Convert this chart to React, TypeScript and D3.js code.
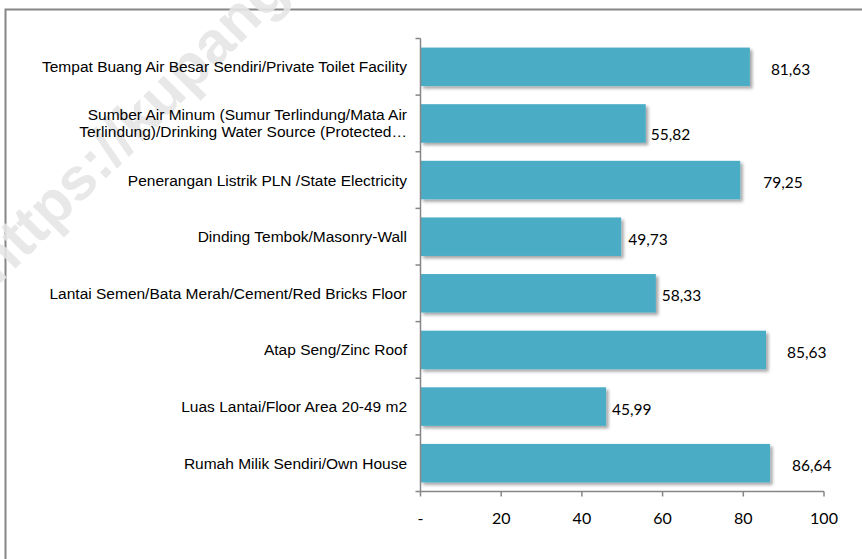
import React from "react";
import * as d3 from "d3";

const categories: string[] = [
  "Tempat Buang Air Besar Sendiri/Private Toilet Facility",
  "Sumber Air Minum (Sumur Terlindung/Mata Air\nTerlindung)/Drinking Water Source (Protected…",
  "Penerangan Listrik PLN /State Electricity",
  "Dinding Tembok/Masonry-Wall",
  "Lantai Semen/Bata Merah/Cement/Red Bricks Floor",
  "Atap Seng/Zinc Roof",
  "Luas Lantai/Floor Area 20-49 m2",
  "Rumah Milik Sendiri/Own House",
];
const values: number[] = [81.63, 55.82, 79.25, 49.73, 58.33, 85.63, 45.99, 86.64];
const valueLabels: string[] = ["81,63", "55,82", "79,25", "49,73", "58,33", "85,63", "45,99", "86,64"];
const xTicks: number[] = [0, 20, 40, 60, 80, 100];
const xTickLabels: string[] = ["-", "20", "40", "60", "80", "100"];
// label nudges (Excel-like placement)
const labelDx: number[] = [21, 5, 23, 7, 6, 21, 6, 22];
const labelDy: number[] = [0, 9, 0, 0, 0, 0, 0, 0];

const W = 862;
const H = 559;
const left = 420.5;
const right = 824;
const top = 38.5;
const bottom = 491.5;

export default function App() {
  const x = d3.scaleLinear().domain([0, 100]).range([left, right]);
  const y = d3.scaleBand<number>().domain(d3.range(categories.length)).range([top, bottom]).paddingInner(0.32).paddingOuter(0.16);
  const boundaries = d3.range(categories.length + 1).map((i) => top + i * ((bottom - top) / categories.length));
  const axisColor = "#868686";
  return (
    <svg width={W} height={H} style={{ position: "absolute", left: 0, top: 0, background: "#fff" }}>
      <defs>
        <filter id="sh" x="-5%" y="-20%" width="115%" height="160%">
          <feDropShadow dx="2.5" dy="2.5" stdDeviation="1.8" floodColor="#000" floodOpacity="0.35" />
        </filter>
      </defs>
      <rect x={0} y={0} width={W} height={H} fill="#fff" />
      <rect x={5.5} y={9.5} width={W + 20} height={H + 20} fill="none" stroke={axisColor} strokeWidth={2} />
      {/* watermark */}
      <text x={-2} y={286} transform="rotate(-45 -2 286)" fontFamily="'Liberation Sans', Arial, sans-serif" fontWeight="bold" fontSize={60} fill="#e6e6e6" opacity={0.9}>
        https://kupangkota.bps.go.id
      </text>
      {/* bars */}
      {values.map((v, i) => (
        <rect key={"b" + i} x={x(0)} y={y(i)} width={x(v) - x(0)} height={y.bandwidth()} fill="#4BACC6" filter="url(#sh)" />
      ))}
      {/* y axis */}
      <line x1={left} x2={left} y1={top} y2={bottom} stroke={axisColor} strokeWidth={1.5} />
      {boundaries.map((b, i) => (
        <line key={"yt" + i} x1={left - 5} x2={left} y1={b} y2={b} stroke={axisColor} strokeWidth={1.5} />
      ))}
      {/* x axis */}
      <line x1={left} x2={right} y1={bottom} y2={bottom} stroke={axisColor} strokeWidth={1.5} />
      {xTicks.map((t, i) => (
        <g key={"xt" + i}>
          <line x1={x(t)} x2={x(t)} y1={bottom} y2={bottom + 5} stroke={axisColor} strokeWidth={1.5} />
          <text x={x(t)} y={bottom + 32} textAnchor="middle" fontFamily="Lato, 'Open Sans', sans-serif" fontSize={16} fill="#000">
            {xTickLabels[i]}
          </text>
        </g>
      ))}
      {/* category labels */}
      {categories.map((c, i) => {
        const lines = c.split("\n");
        const cy = (y(i) as number) + y.bandwidth() / 2;
        const lh = 17;
        return (
          <text key={"c" + i} textAnchor="end" fontFamily="'Liberation Sans', Arial, sans-serif" fontSize={15.5} fill="#000">
            {lines.map((ln, j) => (
              <tspan key={j} x={407} y={cy + 5.5 + (j - (lines.length - 1) / 2) * lh}>
                {ln}
              </tspan>
            ))}
          </text>
        );
      })}
      {/* value labels */}
      {values.map((v, i) => (
        <text key={"v" + i} x={x(v) + labelDx[i]} y={(y(i) as number) + y.bandwidth() / 2 + 8 + labelDy[i]} fontFamily="Lato, 'Open Sans', sans-serif" fontSize={15.5} fill="#000">
          {valueLabels[i]}
        </text>
      ))}
    </svg>
  );
}
